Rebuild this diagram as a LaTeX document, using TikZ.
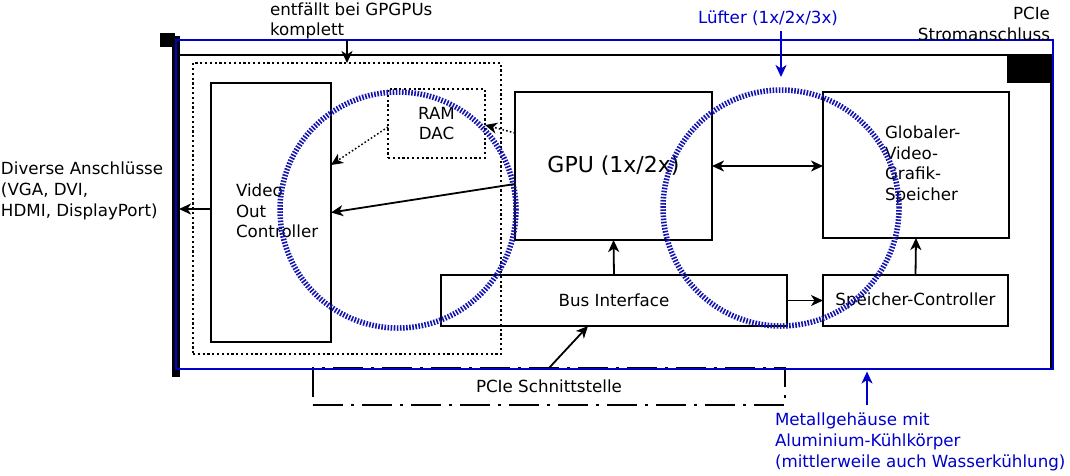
\documentclass[tikz,border=0pt]{standalone}
\usepackage{fontspec}
\setmainfont{DejaVu Sans}
\usetikzlibrary{arrows.meta,calc}
\definecolor{frameblue}{RGB}{0,0,204}
\definecolor{fanblue}{RGB}{20,20,175}
\begin{document}
\begin{tikzpicture}[x=1pt,y=-1pt,
  every node/.style={font=\fontsize{16.7}{20.7}\selectfont, inner sep=0pt, outer sep=0pt},
  box/.style={draw, line width=2.2pt, rectangle},
  dotbox/.style={draw, line width=2.2pt, dash pattern=on 2.2pt off 2.6pt, rectangle},
  tip/.style={Stealth[length=12pt,width=11pt,inset=3.5pt]},
  arr/.style={-{Stealth[length=12pt,width=11pt,inset=3.5pt]}, line width=1.8pt},
  dotarr/.style={-{Stealth[length=12pt,width=11pt,inset=3.5pt]}, line width=1.5pt, dash pattern=on 1.6pt off 2.2pt},
  fan/.style={circle, draw=fanblue, line width=5.5pt, dash pattern=on 1.6pt off 1.5pt, minimum size=236pt}
]
\useasboundingbox (0,0) rectangle (1070,475);

% card (PCB) with slot bracket
\fill (172,36) rectangle (180,377);
\fill (160,33) rectangle (175,47);
\node[draw, line width=2.4pt, minimum width=872pt, minimum height=314pt] (card) at (615,212) {};
\node[fill, minimum width=43pt, minimum height=28pt] (power) at (1028.5,69) {};

% legacy display part
\node[dotbox, minimum width=308pt, minimum height=291pt] (legacy) at (347,208.5) {};
\node[box, minimum width=120pt, minimum height=259pt] (voc) at (271,212.5) {};
\node[anchor=west, align=left] (voctext) at (236,211) {Video\\Out\\Controller};
\node[dotbox, minimum width=97pt, minimum height=69pt, align=center] (ram) at (436.5,123.5) {RAM\\DAC};

% main blocks
\node[box, minimum width=197pt, minimum height=148pt, font=\fontsize{22}{26}\selectfont] (gpu) at (613.5,166) {GPU (1x/2x)};
\node[box, minimum width=186pt, minimum height=146pt] (glob) at (916,165) {};
\node[anchor=west, align=left] (globtext) at (885,165) {Globaler-\\Video-\\Grafik-\\Speicher};
\node[box, minimum width=346pt, minimum height=51pt] (bus) at (614,300.5) {Bus Interface};
\node[box, minimum width=185pt, minimum height=51pt] (spc) at (915.5,300.5) {Speicher-Controller};
\node[draw, line width=2.2pt, dash pattern=on 30pt off 8pt on 3pt off 8pt, minimum width=472pt, minimum height=37pt] (pcie) at (549,386.5) {PCIe Schnittstelle};

% housing
\node[draw=frameblue, line width=2.8pt, minimum width=877pt, minimum height=329pt] (housing) at (614.5,204.5) {};

% fans
\node[fan] (fan1) at (398,210) {};
\node[fan] (fan2) at (781,208) {};

% connectors
\draw[arr] (bus.north) -- (gpu.south);
\draw[arr] (spc.north) -- (glob.south);
\draw[arr] (bus.east) -- (spc.west);
\draw[{Stealth[length=12pt,width=11pt,inset=3.5pt]}-{Stealth[length=12pt,width=11pt,inset=3.5pt]}, line width=1.8pt] (gpu.east) -- (gpu.east -| glob.west);
\draw[arr] ([yshift=3.5pt]voc.west) -- ([yshift=3.5pt]voc.west -| card.west);
\draw[arr] ([yshift=-18pt]gpu.west) -- (voc.east);
\draw[dotarr] ([yshift=-3.5pt]ram.west) -- ([yshift=47.5pt]voc.east);
\draw[dotarr] ([yshift=33pt]gpu.west) -- ([yshift=-1.5pt]ram.east);
\draw[arr] (pcie.north) -- ([xshift=-26pt]bus.south);
\draw[arr] (housing.north -| legacy.north) -- (legacy.north);

% labels
\node[anchor=west, align=left] (gpgpu) at (270,21) {entfällt bei GPGPUs\\komplett};
\node[text=frameblue] (luefter) at (768,18) {Lüfter (1x/2x/3x)};
\draw[arr, frameblue, shorten <=6pt] (luefter.south -| fan2.north) -- ([yshift=13pt]fan2.north);
\node[anchor=east, align=right] (strom) at (1050,24) {PCIe\\Stromanschluss};
\node[anchor=west, align=left] (diverse) at (1,191) {Diverse Anschlüsse\\(VGA, DVI,\\HDMI, DisplayPort)};
\node[anchor=west, align=left, text=frameblue] (metall) at (775,442) {Metallgehäuse mit\\Aluminium-Kühlkörper\\(mittlerweile auch Wasserkühlung)};
\coordinate (mtip) at (867,0);
\draw[arr, frameblue] ([yshift=8pt]metall.north -| mtip) -- ([yshift=-2.5pt]housing.south -| mtip);
\end{tikzpicture}
\end{document}
